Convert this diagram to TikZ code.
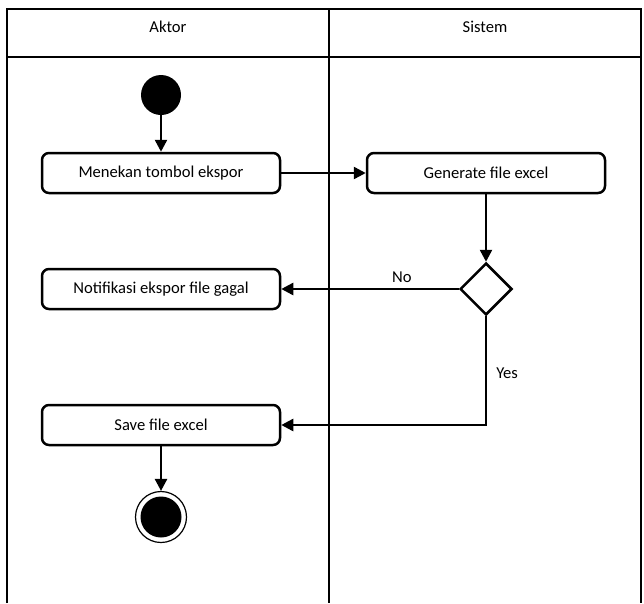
\documentclass[tikz,border=0pt]{standalone}
\usepackage{fontspec}
\setmainfont{Carlito}
\usetikzlibrary{positioning,calc,arrows.meta,shapes.geometric}
\tikzset{font=\fontsize{16.6}{19}\selectfont}
\tikzset{
	action/.style={draw, line width=2.5pt, rounded corners=7pt, minimum width=238pt, minimum height=40pt},
	decision/.style={draw, line width=2.5pt, diamond, minimum width=52pt, minimum height=52pt, inner sep=0pt},
	flow/.style={line width=2.5pt, -{Triangle[length=12pt, width=12pt]}}
}

\begin{document}
\begin{tikzpicture}[x=1pt, y=-1pt]
	\useasboundingbox (0, 0) rectangle (644, 603);
	\begin{scope}
		\tikzstyle{every node}=[align=center, inner sep=1pt]
		% swimlanes
		\draw[line width=2.5pt] (7, 603) -- (7, 9) -- (641, 9) -- (641, 603);
		\draw[line width=2.5pt] (7, 57) -- (641, 57);
		\draw[line width=2.5pt] (329, 9) -- (329, 603);
		\node (aktor) at (168, 27) {Aktor};
		\node (sistem) at (485, 27) {Sistem};

		\node[circle, fill=black, minimum size=40pt, inner sep=0pt] (start) at (161, 95) {};
		\node[action] (tekan) at (161, 173) {Menekan tombol ekspor};
		\node[action] (generate) at (486, 173) {Generate file excel};
		\node[decision] (cek) at (486, 289) {};
		\node[action] (gagal) at (161, 289) {Notifikasi ekspor file gagal};
		\node[action] (save) at (161, 425) {Save file excel};
		\node[circle, draw, line width=1.2pt, minimum size=51pt, inner sep=0pt] (stop) at (161, 517) {};
		\node[circle, fill=black, minimum size=41pt, inner sep=0pt] at (stop) {};

		\draw[flow] (start) -- (tekan);
		\draw[flow] (tekan) -- (generate);
		\draw[flow] (generate) -- (cek);
		\draw[flow] (cek) -- node[above, pos=0.32, yshift=4pt] {No} (gagal);
		\draw[flow] (cek) -- node[right, pos=0.52, xshift=8pt] {Yes} (cek |- save) -- (save);
		\draw[flow] (save) -- (stop);

	\end{scope}
\end{tikzpicture}
\end{document}
